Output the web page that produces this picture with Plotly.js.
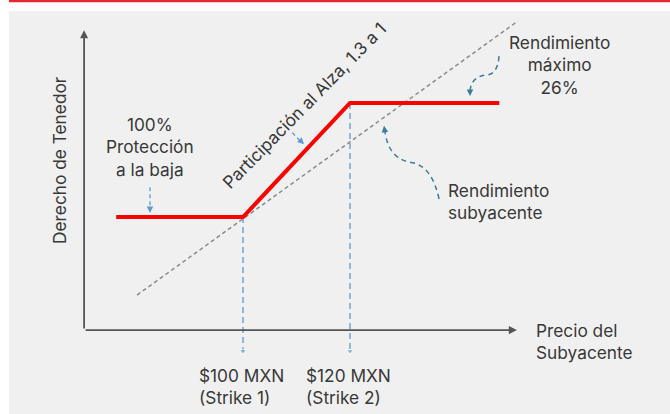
<!DOCTYPE html>
<html>
<head>
<meta charset="utf-8">
<script src="https://cdn.plot.ly/plotly-3.0.1.min.js"></script>
<style>html,body{margin:0;padding:0;background:#fff}#chart{width:670px;height:414px}</style>
</head>
<body>
<div id="chart"></div>
<script>
// ---- data ----
const strikes = [100, 120];
const strikeLabels = ['$100 MXN<br>(Strike 1)', '$120 MXN<br>(Strike 2)'];
const protectionLevel = 100;
const maxReturnPct = 26;
const payoffX = [76.3, 100, 120, 147.9];
const payoffY = [100, 100, 126, 126];
const underlyingX = [80.2, 151.4];
const underlyingY = [82.2, 144.7];
const axisOrigin = [70.3, 74.2];
const axisEnd = [151.2, 142.6];
const strikeArrowBottom = 69.4;

const FONT = 'Inter, "Open Sans", Arial, sans-serif';
const TXT = '#383838';
const BLUE = '#5b9bd5';
const TEAL = '#3d7b9a';
const FS = 17.3;

const traces = [
  { x: underlyingX, y: underlyingY, mode: 'lines',
    line: { color: '#8a8a8a', width: 1.5, dash: '4px,3px' }, hoverinfo: 'skip' },
];
strikes.forEach(function (s) {
  const i = payoffX.indexOf(s);
  traces.push({ x: [s, s], y: [payoffY[i], strikeArrowBottom], mode: 'lines+markers',
    line: { color: BLUE, width: 1.3, dash: '6px,4px' },
    marker: { symbol: ['circle', 'triangle-down'], size: [0, 6], color: BLUE },
    cliponaxis: false, hoverinfo: 'skip' });
});
traces.push({ x: payoffX, y: payoffY, mode: 'lines',
  line: { color: '#ff0000', width: 4 }, hoverinfo: 'skip' });
// small dashed pointer lines
traces.push({ x: [82.62, 82.62], y: [106.8, 101.4], mode: 'lines',
  line: { color: BLUE, width: 1.3, dash: '4px,3px' }, hoverinfo: 'skip' });
traces.push({ x: [109.2, 111.0], y: [119.2, 117.0], mode: 'lines',
  line: { color: BLUE, width: 1.3, dash: '4px,3px' }, hoverinfo: 'skip' });

function txt(x, y, text, opts) {
  return Object.assign({ x: x, y: y, xref: 'x', yref: 'y', text: text, showarrow: false,
    font: { family: FONT, size: FS, color: TXT } }, opts || {});
}
function head(x, y, ax, ay, color) {
  return { x: x, y: y, xref: 'x', yref: 'y', ax: ax, ay: ay, text: '', showarrow: true,
    arrowhead: 2, arrowsize: 1, arrowwidth: 1.3, arrowcolor: color, standoff: 0 };
}

const annotations = [
  // axes
  { x: axisEnd[0], y: axisOrigin[1], ax: axisOrigin[0], ay: axisOrigin[1], axref: 'x', ayref: 'y',
    xref: 'x', yref: 'y', text: '', showarrow: true, arrowhead: 2, arrowsize: 0.9, arrowwidth: 1.8, arrowcolor: '#555', standoff: 0 },
  { x: axisOrigin[0], y: axisEnd[1], ax: axisOrigin[0], ay: axisOrigin[1], axref: 'x', ayref: 'y',
    xref: 'x', yref: 'y', text: '', showarrow: true, arrowhead: 2, arrowsize: 0.9, arrowwidth: 1.8, arrowcolor: '#555', standoff: 0 },
  txt(65.6, 113.0, 'Derecho de Tenedor', { textangle: -90 }),
  txt(82.62, 115.9, protectionLevel + '%<br>Protección<br>a la baja'),
  txt(111.4, 125.5, 'Participación al Alza, 1.3 a 1', { textangle: -45.5 }),
  txt(159.2, 134.6, 'Rendimiento<br>máximo<br>' + maxReturnPct + '%'),
  txt(137.9, 103.6, 'Rendimiento<br>subyacente', { xanchor: 'left', align: 'left' }),
  txt(154.4, 71.7, 'Precio del<br>Subyacente', { xanchor: 'left', align: 'left' }),
  head(82.62, 100.9, 0, -6, BLUE),
  head(111.4, 116.6, -5, -5, BLUE),
  head(126.36, 120.8, 1, 7, TEAL),
  head(142.43, 127.6, 0, -7, TEAL)
];
strikes.forEach(function (s, i) {
  annotations.push(txt(s - 8.6, 61.3, strikeLabels[i], { xanchor: 'left', align: 'left' }));
});

const layout = {
  width: 670, height: 414,
  margin: { l: 0, r: 0, t: 0, b: 0 },
  paper_bgcolor: '#ffffff', plot_bgcolor: 'rgba(0,0,0,0)',
  showlegend: false,
  xaxis: { range: [54.58, 179.81], visible: false, fixedrange: true },
  yaxis: { range: [55.07, 149.49], visible: false, fixedrange: true },
  shapes: [
    { type: 'rect', xref: 'paper', yref: 'paper', x0: 0.0134, x1: 1, y0: 0, y1: 0.9734,
      fillcolor: '#f0f0f0', line: { width: 0 }, layer: 'below' },
    { type: 'line', xref: 'paper', yref: 'paper', x0: 0.0134, x1: 1, y0: 0.9976, y1: 0.9976,
      line: { color: '#e8262f', width: 2.5 } },
    { type: 'path', xref: 'x', yref: 'y',
      path: 'M 136.64,104.1 Q 135.3,111.9 131.2,112.5 Q 127.1,113.4 126.5,119.8',
      line: { color: TEAL, width: 1.5, dash: '5px,4px' } },
    { type: 'path', xref: 'x', yref: 'y',
      path: 'M 147.85,136.7 Q 147.6,132.6 145.6,132.4 Q 142.6,132.1 142.43,128.6',
      line: { color: TEAL, width: 1.5, dash: '5px,4px' } }
  ],
  annotations: annotations
};

Plotly.newPlot('chart', traces, layout, { displayModeBar: false, staticPlot: true });
</script>
</body>
</html>
